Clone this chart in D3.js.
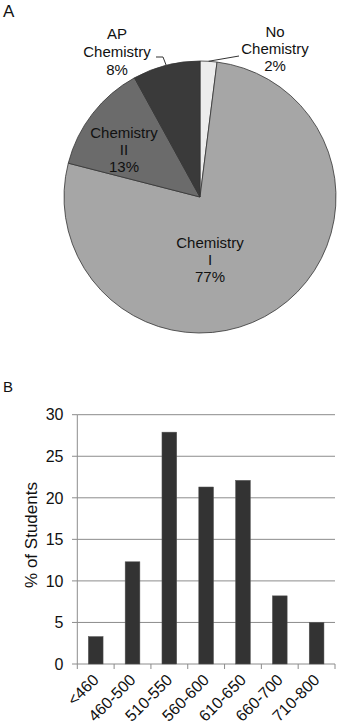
<!DOCTYPE html>
<html>
<head>
<meta charset="utf-8">
<script src="https://cdn.jsdelivr.net/npm/d3@7"></script>
<style>
  html, body { margin: 0; padding: 0; background: #fff; }
  svg { display: block; font-family: "Liberation Sans", Arial, sans-serif; }
</style>
</head>
<body>
<svg id="chart" width="338" height="727"></svg>
<script>
(function(){
'use strict';

// panel A: course taken
var courseNames = ['No Chemistry', 'Chemistry I', 'Chemistry II', 'AP Chemistry'];
var courseLines = [['No', 'Chemistry', '2%'], ['Chemistry', 'I', '77%'], ['Chemistry', 'II', '13%'], ['AP', 'Chemistry', '8%']];
var coursePct = [2, 77, 13, 8];

// panel B: score distribution
var scoreBins = ['<460', '460-500', '510-550', '560-600', '610-650', '660-700', '710-800'];
var scorePct = [3.3, 12.3, 27.9, 21.3, 22.1, 8.2, 5.0];
var yTicks = [0, 5, 10, 15, 20, 25, 30];

var svg = d3.select('#chart');

// ---- A ----
svg.append('text').attr('x', 3).attr('y', 17).attr('font-size', 17).attr('fill', '#111').text('A');

var cx = 200, cy = 197, radius = 136;
var sliceFill = ['#ececec', '#a6a6a6', '#6b6b6b', '#3a3a3a'];
var labelAt = [[275, 32], [210, 243], [124, 133], [117, 34]];
var lineGap = [17, 17, 17, 18];

var pie = d3.pie().sort(null).value(function(d) { return d; });
var arc = d3.arc().innerRadius(0).outerRadius(radius);
var gPie = svg.append('g').attr('transform', 'translate(' + cx + ',' + cy + ')');

gPie.selectAll('path').data(pie(coursePct)).enter().append('path')
    .attr('d', arc)
    .attr('fill', function(d, i) { return sliceFill[i]; })
    .attr('stroke', '#333')
    .attr('stroke-width', 0.8);

// leader lines for the two small slices
var outer = d3.arc().innerRadius(radius).outerRadius(radius);
var slices = pie(coursePct);
var pNo = outer.centroid(slices[0]);
svg.append('path')
    .attr('d', 'M' + (cx + pNo[0]) + ',' + (cy + pNo[1]) + 'L239,56')
    .attr('fill', 'none').attr('stroke', '#333').attr('stroke-width', 1);
var pAp = outer.centroid(slices[3]);
svg.append('path')
    .attr('d', 'M' + (cx + pAp[0]) + ',' + (cy + pAp[1]) + 'L163,57L156,57')
    .attr('fill', 'none').attr('stroke', '#333').attr('stroke-width', 1);

courseLines.forEach(function(lines, i) {
    var t = svg.append('text')
        .attr('x', labelAt[i][0]).attr('y', labelAt[i][1])
        .attr('text-anchor', 'middle')
        .attr('font-size', 15)
        .attr('fill', '#111');
    lines.forEach(function(s, k) {
        t.append('tspan').attr('x', labelAt[i][0]).attr('dy', k === 0 ? '0.35em' : lineGap[i]).text(s);
    });
});

// ---- B ----
svg.append('text').attr('x', 3).attr('y', 392).attr('font-size', 15).attr('fill', '#111').text('B');

var x = d3.scaleBand().domain(scoreBins).range([77.3, 335]).paddingInner(0.6).paddingOuter(0.3);
var xb = d3.scaleBand().domain(scoreBins).range([77.3, 335]);
var y = d3.scaleLinear().domain([0, 30]).range([664, 414.7]);

var gB = svg.append('g');

gB.selectAll('line.grid').data(yTicks).enter().append('line')
    .attr('class', 'grid')
    .attr('x1', 77.3).attr('x2', 335)
    .attr('y1', function(d) { return y(d); }).attr('y2', function(d) { return y(d); })
    .attr('stroke', '#8c8c8c').attr('stroke-width', 1);

gB.append('line').attr('x1', 77.3).attr('x2', 77.3).attr('y1', y(30)).attr('y2', y(0))
    .attr('stroke', '#8c8c8c');

gB.selectAll('line.ytick').data(yTicks).enter().append('line')
    .attr('class', 'ytick')
    .attr('x1', 72).attr('x2', 77.3)
    .attr('y1', function(d) { return y(d); }).attr('y2', function(d) { return y(d); })
    .attr('stroke', '#8c8c8c');

gB.selectAll('text.ylab').data(yTicks).enter().append('text')
    .attr('class', 'ylab')
    .attr('x', 63.5).attr('y', function(d) { return y(d); })
    .attr('dy', '0.36em')
    .attr('text-anchor', 'end')
    .attr('font-size', 16)
    .attr('fill', '#111')
    .text(function(d) { return d; });

var xEdges = scoreBins.map(function(d) { return xb(d); }).concat([335]);
gB.selectAll('line.xtick').data(xEdges).enter().append('line')
    .attr('class', 'xtick')
    .attr('x1', function(d) { return d; }).attr('x2', function(d) { return d; })
    .attr('y1', y(0)).attr('y2', y(0) + 5)
    .attr('stroke', '#8c8c8c');

gB.selectAll('rect').data(scorePct).enter().append('rect')
    .attr('x', function(d, i) { return x(scoreBins[i]); })
    .attr('width', x.bandwidth())
    .attr('y', function(d) { return y(d); })
    .attr('height', function(d) { return y(0) - y(d); })
    .attr('fill', '#333')
    .attr('stroke', '#555')
    .attr('stroke-width', 0.5);

gB.selectAll('text.xlab').data(scoreBins).enter().append('text')
    .attr('class', 'xlab')
    .attr('transform', function(d) {
        return 'translate(' + (xb(d) + xb.bandwidth() / 2 + 4) + ',' + (y(0) + 17) + ') rotate(-45)';
    })
    .attr('text-anchor', 'end')
    .attr('font-size', 16)
    .attr('fill', '#111')
    .text(function(d) { return d; });

svg.append('text')
    .attr('transform', 'translate(31,535) rotate(-90)')
    .attr('text-anchor', 'middle')
    .attr('dy', '0.35em')
    .attr('font-size', 17)
    .attr('fill', '#111')
    .text('% of Students');
})();
</script>
</body>
</html>
